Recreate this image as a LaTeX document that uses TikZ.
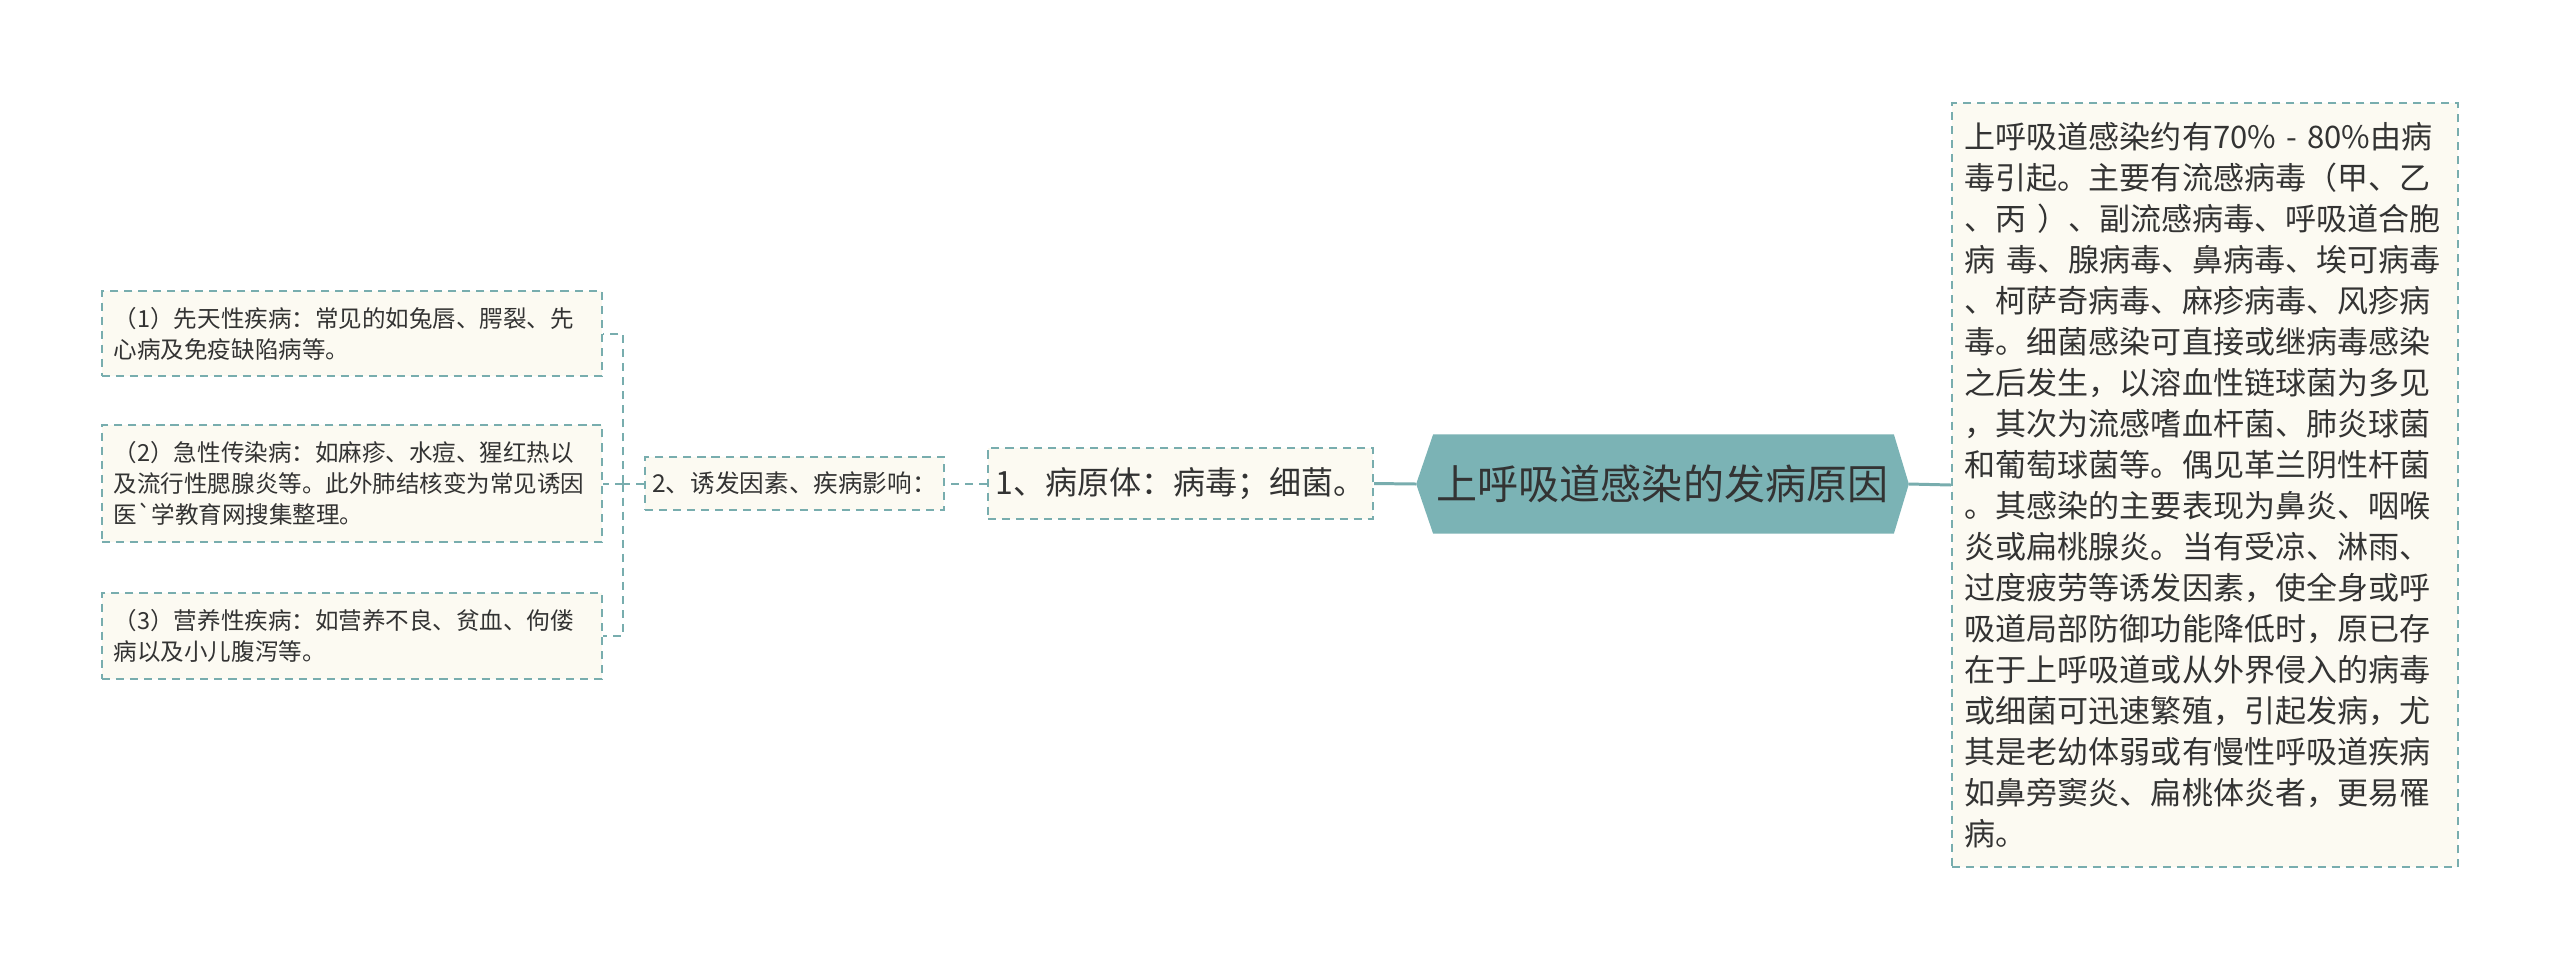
\documentclass[tikz,border=0pt]{standalone}
\usepackage{fontspec}
\newfontfamily\cjk{Noto Sans CJK SC}
\usetikzlibrary{calc,backgrounds}
\definecolor{mmline}{HTML}{78ADAE}
\definecolor{mmroot}{HTML}{7BB3B5}
\definecolor{mmfill}{HTML}{FCFAF2}
\definecolor{mmtext}{HTML}{333333}
\begin{document}
\begin{tikzpicture}[x=0.01cm,y=-0.01cm,
  box/.style={draw=mmline, fill=mmfill, line width=0.57pt, dash pattern=on 2.3pt off 1.7pt,
    text=mmtext, align=left, inner ysep=0pt},
  leftbox/.style={box, text width=4.76cm, inner xsep=0.12cm, minimum width=5cm,
    font={\cjk\fontsize{6.69pt}{8.82pt}\selectfont}},
  rightbox/.style={box, text width=4.8cm, inner xsep=0.13cm, minimum width=5.06cm, minimum height=7.64cm,
    font={\cjk\fontsize{8.82pt}{11.67pt}\selectfont}},
  midbox/.style={box, align=center, inner xsep=0pt},
  rootnode/.style={inner sep=0pt, minimum width=4.91cm, minimum height=0.98cm, text=mmtext,
    font={\cjk\fontsize{11.67pt}{14pt}\selectfont}},
  solidconn/.style={draw=mmline, line width=0.85pt},
  dashconn/.style={draw=mmline, line width=0.57pt, dash pattern=on 2.3pt off 1.7pt}]
\useasboundingbox (0,0) rectangle (2560,969);
\begin{pgfonlayer}{background}
\fill[white] (0,0) rectangle (2560,969);
\end{pgfonlayer}

% root
\node[rootnode] (root) at (1662.5,484) {上呼吸道感染的发病原因};
\begin{pgfonlayer}{background}
\fill[mmroot] (root.west) -- ($(root.north west)+(17,0)$) -- ($(root.north east)+(-15,0)$)
  -- (root.east) -- ($(root.south east)+(-15,0)$) -- ($(root.south west)+(17,0)$) -- cycle;
\end{pgfonlayer}

% right box
\node[rightbox] (rb) at (2205,485) {上呼吸道感染约有70\% - 80\%由病\\
毒引起。主要有流感病毒（甲、乙\\
、丙 ）、副流感病毒、呼吸道合胞\\
病 毒、腺病毒、鼻病毒、埃可病毒\\
、柯萨奇病毒、麻疹病毒、风疹病\\
毒。细菌感染可直接或继病毒感染\\
之后发生，以溶血性链球菌为多见\\
，其次为流感嗜血杆菌、肺炎球菌\\
和葡萄球菌等。偶见革兰阴性杆菌\\
。其感染的主要表现为鼻炎、咽喉\\
炎或扁桃腺炎。当有受凉、淋雨、\\
过度疲劳等诱发因素，使全身或呼\\
吸道局部防御功能降低时，原已存\\
在于上呼吸道或从外界侵入的病毒\\
或细菌可迅速繁殖，引起发病，尤\\
其是老幼体弱或有慢性呼吸道疾病\\
如鼻旁窦炎、扁桃体炎者，更易罹\\
病。};

% level 1
\node[midbox, minimum width=3.85cm, minimum height=0.71cm,
  font={\cjk\fontsize{9.1pt}{11pt}\selectfont}] (n1) at (1180.5,483.5) {1、病原体：病毒；细菌。};
\node[midbox, minimum width=2.99cm, minimum height=0.53cm,
  font={\cjk\fontsize{7.0pt}{9pt}\selectfont}] (n2) at (794.5,483.5) {2、诱发因素、疾病影响：};

% left boxes
\node[leftbox, minimum height=0.85cm] (la) at (352,333.5) {（1）先天性疾病：常见的如兔唇、腭裂、先\\
心病及免疫缺陷病等。};
\node[leftbox, minimum height=1.17cm] (lb) at (352,483.5) {（2）急性传染病：如麻疹、水痘、猩红热以\\
及流行性腮腺炎等。此外肺结核变为常见诱因\\
医`学教育网搜集整理。};
\node[leftbox, minimum height=0.86cm] (lc) at (352,636) {（3）营养性疾病：如营养不良、贫血、佝偻\\
病以及小儿腹泻等。};

% connectors
\draw[solidconn] (root.east) -- (rb.west);
\draw[solidconn] (root.west) -- (n1.east);
\draw[dashconn] (n1.west) -- (n2.east);
\coordinate (br) at (623,483.5);
\draw[dashconn] (n2.west) -- (br);
\draw[dashconn] (br) |- (la.east);
\draw[dashconn] (br) -- (lb.east);
\draw[dashconn] (br) |- (lc.east);
\end{tikzpicture}
\end{document}
